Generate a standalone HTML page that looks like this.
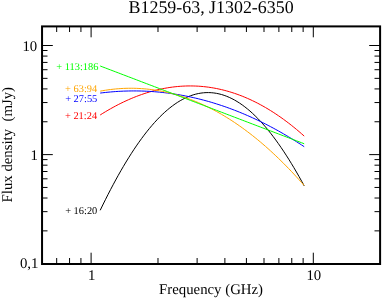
<!DOCTYPE html>
<html><head><meta charset="utf-8"><style>
html,body{margin:0;padding:0;background:#fff;}
body{width:382px;height:299px;overflow:hidden;}
svg{display:block;}
text{font-family:"Liberation Serif",serif;fill:#000;text-rendering:geometricPrecision;}
</style></head><body>
<svg width="382" height="299" viewBox="0 0 382 299">
<rect width="382" height="299" fill="#fff"/>
<path d="M100.20,210.31 L102.78,204.99 L105.36,199.78 L107.95,194.67 L110.53,189.66 L113.11,184.77 L115.69,179.99 L118.28,175.32 L120.86,170.76 L123.44,166.32 L126.02,162.00 L128.61,157.80 L131.19,153.72 L133.77,149.76 L136.35,145.93 L138.93,142.22 L141.52,138.63 L144.10,135.18 L146.68,131.85 L149.26,128.65 L151.85,125.58 L154.43,122.64 L157.01,119.84 L159.59,117.16 L162.17,114.63 L164.76,112.22 L167.34,109.96 L169.92,107.83 L172.50,105.83 L175.09,103.98 L177.67,102.26 L180.25,100.68 L182.83,99.25 L185.42,97.95 L188.00,96.79 L190.58,95.77 L193.16,94.89 L195.74,94.15 L198.33,93.56 L200.91,93.10 L203.49,92.79 L206.07,92.62 L208.66,92.59 L211.24,92.69 L213.82,92.95 L216.40,93.34 L218.98,93.87 L221.57,94.54 L224.15,95.35 L226.73,96.31 L229.31,97.40 L231.90,98.63 L234.48,99.99 L237.06,101.50 L239.64,103.14 L242.23,104.92 L244.81,106.83 L247.39,108.88 L249.97,111.06 L252.55,113.38 L255.14,115.83 L257.72,118.41 L260.30,121.12 L262.88,123.96 L265.47,126.92 L268.05,130.02 L270.63,133.23 L273.21,136.58 L275.79,140.04 L278.38,143.63 L280.96,147.34 L283.54,151.17 L286.12,155.11 L288.71,159.17 L291.29,163.35 L293.87,167.63 L296.45,172.03 L299.04,176.54 L301.62,181.15 L304.20,185.87" fill="none" stroke="#000000" stroke-width="1"/>
<path d="M100.20,114.97 L102.78,113.35 L105.36,111.78 L107.95,110.25 L110.53,108.77 L113.11,107.33 L115.69,105.94 L118.28,104.59 L120.86,103.29 L123.44,102.04 L126.02,100.83 L128.61,99.67 L131.19,98.55 L133.77,97.48 L136.35,96.46 L138.93,95.48 L141.52,94.55 L144.10,93.66 L146.68,92.83 L149.26,92.04 L151.85,91.30 L154.43,90.60 L157.01,89.96 L159.59,89.36 L162.17,88.81 L164.76,88.30 L167.34,87.85 L169.92,87.44 L172.50,87.08 L175.09,86.77 L177.67,86.51 L180.25,86.30 L182.83,86.13 L185.42,86.02 L188.00,85.95 L190.58,85.94 L193.16,85.97 L195.74,86.05 L198.33,86.18 L200.91,86.37 L203.49,86.60 L206.07,86.88 L208.66,87.21 L211.24,87.60 L213.82,88.03 L216.40,88.51 L218.98,89.05 L221.57,89.64 L224.15,90.27 L226.73,90.96 L229.31,91.70 L231.90,92.49 L234.48,93.33 L237.06,94.23 L239.64,95.18 L242.23,96.17 L244.81,97.22 L247.39,98.33 L249.97,99.48 L252.55,100.69 L255.14,101.95 L257.72,103.26 L260.30,104.63 L262.88,106.05 L265.47,107.52 L268.05,109.05 L270.63,110.63 L273.21,112.26 L275.79,113.95 L278.38,115.69 L280.96,117.48 L283.54,119.33 L286.12,121.24 L288.71,123.19 L291.29,125.21 L293.87,127.27 L296.45,129.39 L299.04,131.57 L301.62,133.80 L304.20,136.09" fill="none" stroke="#ff0000" stroke-width="1"/>
<path d="M100.20,93.07 L102.78,92.76 L105.36,92.47 L107.95,92.21 L110.53,91.97 L113.11,91.75 L115.69,91.56 L118.28,91.40 L120.86,91.26 L123.44,91.14 L126.02,91.05 L128.61,90.99 L131.19,90.95 L133.77,90.93 L136.35,90.94 L138.93,90.98 L141.52,91.04 L144.10,91.12 L146.68,91.24 L149.26,91.37 L151.85,91.53 L154.43,91.72 L157.01,91.93 L159.59,92.17 L162.17,92.43 L164.76,92.72 L167.34,93.03 L169.92,93.37 L172.50,93.74 L175.09,94.13 L177.67,94.54 L180.25,94.99 L182.83,95.45 L185.42,95.94 L188.00,96.46 L190.58,97.01 L193.16,97.58 L195.74,98.17 L198.33,98.79 L200.91,99.44 L203.49,100.11 L206.07,100.81 L208.66,101.53 L211.24,102.28 L213.82,103.06 L216.40,103.86 L218.98,104.69 L221.57,105.54 L224.15,106.42 L226.73,107.32 L229.31,108.25 L231.90,109.21 L234.48,110.19 L237.06,111.20 L239.64,112.24 L242.23,113.30 L244.81,114.39 L247.39,115.50 L249.97,116.64 L252.55,117.81 L255.14,119.00 L257.72,120.22 L260.30,121.47 L262.88,122.74 L265.47,124.04 L268.05,125.36 L270.63,126.71 L273.21,128.09 L275.79,129.49 L278.38,130.92 L280.96,132.38 L283.54,133.86 L286.12,135.37 L288.71,136.91 L291.29,138.47 L293.87,140.06 L296.45,141.68 L299.04,143.32 L301.62,144.99 L304.20,146.68" fill="none" stroke="#0000ff" stroke-width="1"/>
<path d="M100.20,91.14 L102.78,90.67 L105.36,90.25 L107.95,89.87 L110.53,89.52 L113.11,89.22 L115.69,88.96 L118.28,88.74 L120.86,88.56 L123.44,88.42 L126.02,88.32 L128.61,88.27 L131.19,88.25 L133.77,88.28 L136.35,88.35 L138.93,88.46 L141.52,88.61 L144.10,88.80 L146.68,89.03 L149.26,89.31 L151.85,89.63 L154.43,89.99 L157.01,90.39 L159.59,90.84 L162.17,91.32 L164.76,91.85 L167.34,92.42 L169.92,93.04 L172.50,93.69 L175.09,94.39 L177.67,95.13 L180.25,95.92 L182.83,96.75 L185.42,97.62 L188.00,98.53 L190.58,99.49 L193.16,100.49 L195.74,101.53 L198.33,102.62 L200.91,103.75 L203.49,104.92 L206.07,106.14 L208.66,107.40 L211.24,108.70 L213.82,110.05 L216.40,111.45 L218.98,112.88 L221.57,114.36 L224.15,115.89 L226.73,117.46 L229.31,119.07 L231.90,120.73 L234.48,122.43 L237.06,124.18 L239.64,125.97 L242.23,127.81 L244.81,129.69 L247.39,131.61 L249.97,133.58 L252.55,135.60 L255.14,137.66 L257.72,139.77 L260.30,141.92 L262.88,144.12 L265.47,146.36 L268.05,148.65 L270.63,150.98 L273.21,153.36 L275.79,155.79 L278.38,158.26 L280.96,160.78 L283.54,163.34 L286.12,165.95 L288.71,168.60 L291.29,171.31 L293.87,174.05 L296.45,176.85 L299.04,179.69 L301.62,182.58 L304.20,185.51" fill="none" stroke="#ffa500" stroke-width="1"/>
<path d="M100.20,65.98 L102.78,66.97 L105.36,67.95 L107.95,68.94 L110.53,69.92 L113.11,70.91 L115.69,71.89 L118.28,72.87 L120.86,73.86 L123.44,74.84 L126.02,75.83 L128.61,76.81 L131.19,77.79 L133.77,78.78 L136.35,79.76 L138.93,80.75 L141.52,81.73 L144.10,82.72 L146.68,83.70 L149.26,84.68 L151.85,85.67 L154.43,86.65 L157.01,87.64 L159.59,88.62 L162.17,89.61 L164.76,90.59 L167.34,91.57 L169.92,92.56 L172.50,93.54 L175.09,94.53 L177.67,95.51 L180.25,96.49 L182.83,97.48 L185.42,98.46 L188.00,99.45 L190.58,100.43 L193.16,101.42 L195.74,102.40 L198.33,103.38 L200.91,104.37 L203.49,105.35 L206.07,106.34 L208.66,107.32 L211.24,108.30 L213.82,109.29 L216.40,110.27 L218.98,111.26 L221.57,112.24 L224.15,113.23 L226.73,114.21 L229.31,115.19 L231.90,116.18 L234.48,117.16 L237.06,118.15 L239.64,119.13 L242.23,120.12 L244.81,121.10 L247.39,122.08 L249.97,123.07 L252.55,124.05 L255.14,125.04 L257.72,126.02 L260.30,127.00 L262.88,127.99 L265.47,128.97 L268.05,129.96 L270.63,130.94 L273.21,131.93 L275.79,132.91 L278.38,133.89 L280.96,134.88 L283.54,135.86 L286.12,136.85 L288.71,137.83 L291.29,138.82 L293.87,139.80 L296.45,140.78 L299.04,141.77 L301.62,142.75 L304.20,143.74" fill="none" stroke="#00ff00" stroke-width="1"/>
<path d="M56.68,263.7 v-5.7 M56.68,26.3 v5.7 M69.56,263.7 v-5.7 M69.56,26.3 v5.7 M80.93,263.7 v-5.7 M80.93,26.3 v5.7 M91.10,263.7 v-11 M91.10,26.3 v11 M157.99,263.7 v-5.7 M157.99,26.3 v5.7 M197.12,263.7 v-5.7 M197.12,26.3 v5.7 M224.88,263.7 v-5.7 M224.88,26.3 v5.7 M246.42,263.7 v-5.7 M246.42,26.3 v5.7 M264.01,263.7 v-5.7 M264.01,26.3 v5.7 M278.89,263.7 v-5.7 M278.89,26.3 v5.7 M291.77,263.7 v-5.7 M291.77,26.3 v5.7 M303.14,263.7 v-5.7 M303.14,26.3 v5.7 M313.31,263.7 v-11 M313.31,26.3 v11 M41.8,230.86 h5.7 M380.2,230.86 h-5.7 M41.8,211.65 h5.7 M380.2,211.65 h-5.7 M41.8,198.02 h5.7 M380.2,198.02 h-5.7 M41.8,187.45 h5.7 M380.2,187.45 h-5.7 M41.8,178.81 h5.7 M380.2,178.81 h-5.7 M41.8,171.50 h5.7 M380.2,171.50 h-5.7 M41.8,165.18 h5.7 M380.2,165.18 h-5.7 M41.8,159.60 h5.7 M380.2,159.60 h-5.7 M41.8,154.61 h11 M380.2,154.61 h-11 M41.8,121.76 h5.7 M380.2,121.76 h-5.7 M41.8,102.55 h5.7 M380.2,102.55 h-5.7 M41.8,88.92 h5.7 M380.2,88.92 h-5.7 M41.8,78.35 h5.7 M380.2,78.35 h-5.7 M41.8,69.71 h5.7 M380.2,69.71 h-5.7 M41.8,62.41 h5.7 M380.2,62.41 h-5.7 M41.8,56.08 h5.7 M380.2,56.08 h-5.7 M41.8,50.50 h5.7 M380.2,50.50 h-5.7 M41.8,45.51 h11 M380.2,45.51 h-11" fill="none" stroke="#000" stroke-width="1"/>
<rect x="42.05" y="26.4" width="338.05" height="237.60" fill="none" stroke="#000" stroke-width="2"/>
<g style="opacity:0.999"><text x="211.1" y="13.4" font-size="17.9" text-anchor="middle">B1259-63, J1302-6350</text>
<text x="211.05" y="294.2" font-size="14.8" text-anchor="middle">Frequency (GHz)</text>
<text transform="translate(12,144.7) rotate(-90)" font-size="14.8" text-anchor="middle" xml:space="preserve">Flux density  (mJy)</text>
<text x="37.2" y="50.81" font-size="14.8" text-anchor="end">10</text>
<text x="37.8" y="159.91" font-size="14.8" text-anchor="end">1</text>
<text x="38.4" y="268.10" font-size="14.8" text-anchor="end">0,1</text>
<text x="91.60" y="279.9" font-size="14.8" text-anchor="middle">1</text>
<text x="313.81" y="279.9" font-size="14.8" text-anchor="middle">10</text>
<text x="98.4" y="69.70" font-size="10.4" text-anchor="end" style="fill:#00ff00">+ 113:186</text>
<text x="97.2" y="92.20" font-size="10.4" text-anchor="end" style="fill:#ffa500">+ 63:94</text>
<text x="97.3" y="102.20" font-size="10.4" text-anchor="end" style="fill:#0000ff">+ 27:55</text>
<text x="97.1" y="119.10" font-size="10.4" text-anchor="end" style="fill:#ff0000">+ 21:24</text>
<text x="97.3" y="214.40" font-size="10.4" text-anchor="end" style="fill:#000">+ 16:20</text>
</g></svg></body></html>
